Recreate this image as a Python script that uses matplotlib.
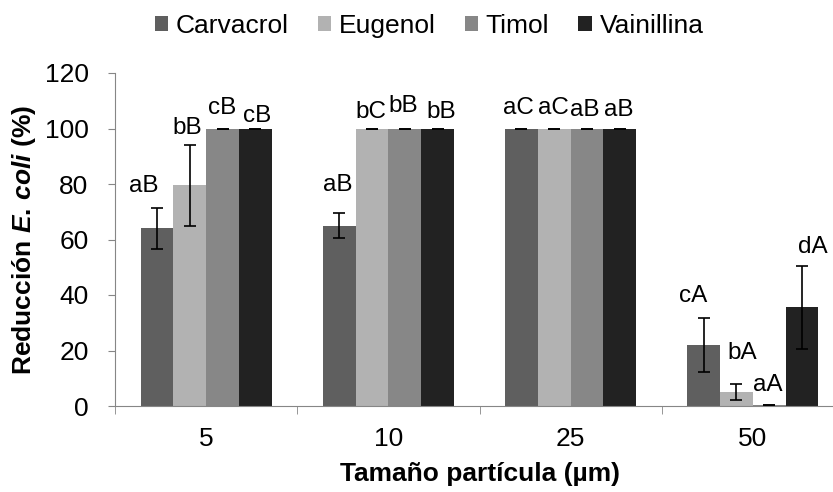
import numpy as np
import matplotlib
matplotlib.use('Agg')
import matplotlib.pyplot as plt

plt.rcParams['font.family'] = ['Liberation Sans', 'DejaVu Sans']
plt.rcParams['mathtext.fontset'] = 'custom'
plt.rcParams['mathtext.it'] = 'Liberation Sans:italic:bold'
plt.rcParams['mathtext.rm'] = 'Liberation Sans:bold'

# datos
tamanos = ['5', '10', '25', '50']
series = ['Carvacrol', 'Eugenol', 'Timol', 'Vainillina']
carvacrol = [64, 65, 100, 22]
eugenol = [79.5, 100, 100, 5]
timol = [100, 100, 100, 0.3]
vainillina = [100, 100, 100, 35.5]
err_carvacrol = [7.5, 4.5, 0, 9.8]
err_eugenol = [14.5, 0, 0, 3]
err_timol = [0, 0, 0, 0]
err_vainillina = [0, 0, 0, 15]
letras_carvacrol = ['aB', 'aB', 'aC', 'cA']
letras_eugenol = ['bB', 'bC', 'aC', 'bA']
letras_timol = ['cB', 'bB', 'aB', 'aA']
letras_vainillina = ['cB', 'bB', 'aB', 'dA']

valores = [carvacrol, eugenol, timol, vainillina]
errores = [err_carvacrol, err_eugenol, err_timol, err_vainillina]
letras = [letras_carvacrol, letras_eugenol, letras_timol, letras_vainillina]
colores = ['#5f5f5f', '#b2b2b2', '#878787', '#222222']

# desplazamiento de las letras (pixeles), por serie y por grupo
desp = [
    [(-13, 22), (-1, 28), (-3, 21), (-11, 22)],
    [(-2, 17), (-1, 16), (-1, 21), (6, 31)],
    [(0, 21), (-2, 23), (-2, 18), (-2, 20)],
    [(2, 13), (4, 16), (-1, 18), (11, 19)],
]

fig = plt.figure(figsize=(8.33, 4.92), dpi=100)
ax = fig.add_axes([115 / 833, 1 - 406 / 492, 729 / 833, 333 / 492])

x = np.arange(len(tamanos))
w = 0.18
for i in range(4):
    pos = x + (i - 1.5) * w
    ax.bar(pos, valores[i], w, color=colores[i], label=series[i], zorder=2)
    ax.errorbar(pos, valores[i], yerr=errores[i], fmt='none', ecolor='black',
                elinewidth=1.2, capsize=4, capthick=1.2, zorder=3)
    for j in range(4):
        top = valores[i][j] + errores[i][j]
        ax.annotate(letras[i][j], (pos[j], top), xytext=desp[i][j],
                    textcoords='offset pixels', ha='center', va='center',
                    fontsize=17.5)

ax.set_xlim(-0.5, 3.5)
ax.set_ylim(0, 120)
ax.set_yticks(range(0, 121, 20))
ax.set_xticks(x)
ax.set_xticklabels(tamanos)
ax.set_xticks(np.arange(-0.5, 4, 1), minor=True)
ax.tick_params(axis='x', which='major', length=0, labelsize=19, pad=15)
ax.tick_params(axis='x', which='minor', length=6, color='#868686', direction='out')
ax.tick_params(axis='y', length=5, color='#868686', labelsize=19, pad=14)

for s in ['top', 'right']:
    ax.spines[s].set_visible(False)
for s in ['left', 'bottom']:
    ax.spines[s].set_color('#868686')

ax.set_ylabel(r'Reducción $\mathit{E.\,coli}$ (%)', fontsize=19, fontweight='bold', labelpad=5)
ax.set_xlabel('Tamaño partícula (µm)', fontsize=19, fontweight='bold', labelpad=8)

fig.legend(loc='upper center', bbox_to_anchor=(0.515, 1.02), ncol=4, frameon=False,
           fontsize=19, handlelength=0.5, handleheight=0.5, handletextpad=0.3,
           columnspacing=1.1)

fig.savefig('out.png', dpi=100)
